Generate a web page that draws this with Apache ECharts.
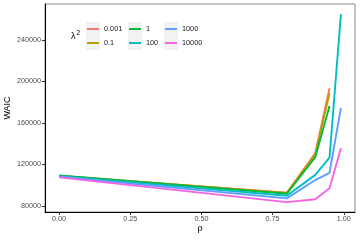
<!DOCTYPE html>
<html><head><meta charset="utf-8">
<script src="https://cdn.jsdelivr.net/npm/echarts@6/dist/echarts.min.js"></script>
<style>html,body{margin:0;padding:0;background:#fff}#c{width:360px;height:240px}</style>
</head><body><div id="c"></div>
<script>
const rho = [0, 0.8, 0.9, 0.95, 0.99];
const lambdaNames = ['0.001', '0.1', '1', '100', '1000', '10000'];
const waic_0001 = [109000, 92800, 131000, 193500, null];
const waic_01 = [109200, 92600, 129500, 188600, null];
const waic_1 = [109500, 91800, 127000, 176400, null];
const waic_100 = [108800, 89800, 110000, 126600, 265000];
const waic_1000 = [108200, 87300, 105000, 112000, 174500];
const waic_10000 = [107600, 83700, 86500, 97000, 135600];
const xTicks = [0, 0.25, 0.5, 0.75, 1.0];
const xTickLabels = ['0.00', '0.25', '0.50', '0.75', '1.00'];
const yTicks = [80000, 120000, 160000, 200000, 240000];
const colors = ['#F8766D', '#B79F00', '#00BA38', '#00BFC4', '#619CFF', '#F564E3'];
const allVals = [waic_0001, waic_01, waic_1, waic_100, waic_1000, waic_10000];

const font = 'Liberation Sans, Arial, sans-serif';
const chart = echarts.init(document.getElementById('c'), null, {renderer: 'canvas'});
const series = lambdaNames.map((n, i) => ({
  name: n, type: 'line', symbol: 'none', color: colors[i],
  lineStyle: {width: 1.9, color: colors[i]},
  data: rho.map((r, j) => allVals[i][j] == null ? null : [r, allVals[i][j]]).filter(d => d),
  z: 2 + i
}));
const legendBase = (left, data) => ({
  orient: 'vertical', left: left, top: 22, itemGap: 0, itemWidth: 12, itemHeight: 2,
  icon: 'rect', padding: 0, data: data,
  textStyle: {fontFamily: font, fontSize: 7.3, color: '#1a1a1a', lineHeight: 14, height: 14}
});
const boxes = [];
[86, 128, 164].forEach(x => [22, 36].forEach(y => boxes.push({
  type: 'rect', left: x, top: y, z: -1, shape: {width: 14, height: 14}, style: {fill: '#f2f2f2'}
})));
chart.setOption({
  animation: false,
  grid: {left: 45, right: 5, top: 4, bottom: 28, containLabel: false, outerBoundsMode: 'none',
    show: true, borderColor: '#888', borderWidth: 1, backgroundColor: 'transparent'},
  xAxis: {
    type: 'value', min: -0.0495, max: 1.0395,
    name: 'ρ', nameLocation: 'middle', nameGap: 12, nameMoveOverlap: false,
    nameTextStyle: {fontFamily: font, fontSize: 9, color: '#000'},
    axisLine: {show: true, onZero: false, lineStyle: {color: '#000', width: 1}},
    axisTick: {show: true, length: 3, lineStyle: {color: '#333'}, customValues: xTicks},
    axisLabel: {fontFamily: font, fontSize: 7.2, color: '#4d4d4d', margin: 4, customValues: xTicks,
      formatter: v => xTickLabels[xTicks.indexOf(v)] ?? ''},
    splitLine: {show: false}
  },
  yAxis: {
    type: 'value', min: 74200, max: 274700,
    name: 'WAIC', nameLocation: 'middle', nameGap: 33, nameRotate: 90, nameMoveOverlap: false,
    nameTextStyle: {fontFamily: font, fontSize: 9, color: '#000'},
    axisLine: {show: true, onZero: false, lineStyle: {color: '#000', width: 1}},
    axisTick: {show: true, length: 3, lineStyle: {color: '#333'}, customValues: yTicks},
    axisLabel: {fontFamily: font, fontSize: 7.2, color: '#4d4d4d', margin: 4, customValues: yTicks,
      formatter: v => String(v)},
    splitLine: {show: false}
  },
  legend: [legendBase(87, ['0.001', '0.1']), legendBase(129, ['1', '100']), legendBase(165, ['1000', '10000'])],
  graphic: boxes.concat([{
    type: 'text', left: 71, top: 30, z: 5,
    style: {text: 'λ{s|2}', fontFamily: font, fontSize: 9, fill: '#000',
      rich: {s: {fontSize: 6.5, verticalAlign: 'top', padding: [0, 0, 6, 1], fill: '#000', fontFamily: font}}}
  }]),
  series: series
});
</script></body></html>
